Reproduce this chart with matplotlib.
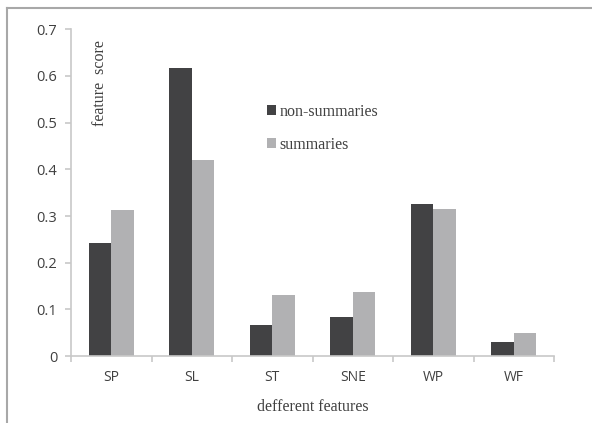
import matplotlib.pyplot as plt
import numpy as np
from matplotlib.lines import Line2D

# Data
features = ['SP', 'SL', 'ST', 'SNE', 'WP', 'WF']
non_summaries = [0.243, 0.616, 0.066, 0.084, 0.325, 0.031]
summaries = [0.313, 0.421, 0.131, 0.138, 0.315, 0.050]

dark = '#424244'
light = '#b1b1b3'
axis_col = '#c8c8c8'
text_col = '#404040'

fig = plt.figure(figsize=(5.92, 4.23), dpi=100)
ax = fig.add_axes([0.12, 0.158, 0.816, 0.773])

x = np.arange(len(features))
w = 0.28
ax.bar(x - w / 2, non_summaries, w, color=dark, label='non-summaries')
ax.bar(x + w / 2, summaries, w, color=light, label='summaries')

ax.set_xlim(-0.5, len(features) - 0.5)
ax.set_ylim(0, 0.7)
ax.set_yticks(np.arange(0, 0.71, 0.1))
ax.set_yticklabels(['0'] + [f'{v:.1f}' for v in np.arange(0.1, 0.71, 0.1)])
ax.set_xticks(x)
ax.set_xticklabels(features)
ax.set_xticks(np.arange(-0.5, len(features), 1), minor=True)

for s in ['top', 'right']:
    ax.spines[s].set_visible(False)
for s in ['left', 'bottom']:
    ax.spines[s].set_color(axis_col)
    ax.spines[s].set_linewidth(1.2)

ax.tick_params(axis='x', which='major', length=0, pad=10, labelsize=10,
               labelcolor=text_col)
ax.tick_params(axis='x', which='minor', length=4, color=axis_col, width=1.2)
ax.tick_params(axis='y', length=4, color=axis_col, width=1.2, labelsize=10.5,
               labelcolor=text_col, pad=6)
for lbl in ax.get_xticklabels() + ax.get_yticklabels():
    lbl.set_family('Open Sans')

ax.text(0.06, 0.835, 'feature  score', transform=ax.transAxes, rotation=90,
        ha='center', va='center', family='Liberation Serif', fontsize=11.5,
        color=text_col)
ax.set_xlabel('defferent features', family='Liberation Serif', fontsize=11.5,
              color=text_col, labelpad=10)

ax.legend(loc='upper left', bbox_to_anchor=(0.375, 0.815), frameon=False,
          handlelength=0.6, handleheight=0.6, handletextpad=0.2,
          labelspacing=1.05, prop={'family': 'Liberation Serif', 'size': 11.5},
          labelcolor=text_col)

# frame lines around the picture
fig.add_artist(Line2D([7 / 592, 1], [1 - 8 / 423, 1 - 8 / 423],
                      transform=fig.transFigure, color='#a8a8a8', lw=1.5))
fig.add_artist(Line2D([7 / 592, 7 / 592], [0, 1 - 8 / 423],
                      transform=fig.transFigure, color='#a8a8a8', lw=1.5))

plt.savefig('out.png')
